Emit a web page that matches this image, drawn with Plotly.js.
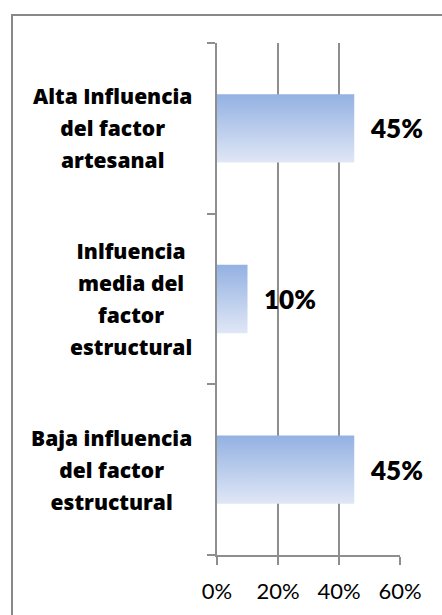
<!DOCTYPE html>
<html>
<head>
<meta charset="utf-8">
<script src="https://cdn.plot.ly/plotly-3.0.1.min.js"></script>
<style>html,body{margin:0;padding:0;background:#fff;}#chart{width:442px;height:615px;}</style>
</head>
<body>
<div id="chart"></div>
<script>
// Data (bottom to top as drawn)
var categories = [
  "Baja influencia\ndel factor\nestructural",
  "Inlfuencia\nmedia del\nfactor\nestructural",
  "Alta Influencia\ndel factor\nartesanal"
];
var values = [0.45, 0.10, 0.45];
var valueLabels = ["45%", "10%", "45%"];
var xTickVals = [0, 0.2, 0.4, 0.6];
var xTickText = ["0%", "20%", "40%", "60%"];

var W = 442, H = 615;
var M = {l: 217, r: 42, t: 43, b: 60};
var plotW = W - M.l - M.r, plotH = H - M.t - M.b;
function px2paperX(p) { return (p - M.l) / plotW; }
function px2paperY(p) { return (H - M.b - p) / plotH; }

var gridCol = "#8E8E8E";
var halfBar = 0.2;

var traces = values.map(function (v, i) {
  return {
    type: "scatter",
    mode: "lines",
    x: [0, v, v, 0, 0],
    y: [i - halfBar, i - halfBar, i + halfBar, i + halfBar, i - halfBar],
    fill: "toself",
    fillgradient: {type: "vertical", colorscale: [[0, "#E0E7F6"], [1, "#93B1E2"]]},
    line: {width: 0, color: "rgba(0,0,0,0)"},
    hoverinfo: "skip",
    showlegend: false
  };
});

var annotations = [];
categories.forEach(function (c, i) {
  var lines = c.split("\n").map(function (s) {
    return '<span style="font-size:21px">' + s + '</span>';
  });
  annotations.push({
    xref: "paper", yref: "y", x: 0, y: i,
    xanchor: "right", yanchor: "middle", xshift: -23,
    align: "center", showarrow: false,
    text: lines.join("<br>"),
    font: {family: "Open Sans, sans-serif", size: 24.6, color: "#000", weight: 800}
  });
});
values.forEach(function (v, i) {
  annotations.push({
    xref: "x", yref: "y", x: v, y: i,
    xanchor: "left", yanchor: "middle", xshift: 14,
    showarrow: false,
    text: valueLabels[i],
    font: {family: "Lato, sans-serif", size: 26, color: "#000", weight: 800}
  });
});

var layout = {
  width: W, height: H,
  margin: {l: M.l, r: M.r, t: M.t, b: M.b, pad: 0},
  paper_bgcolor: "#fff", plot_bgcolor: "#fff",
  showlegend: false,
  xaxis: {
    range: [0, 0.6], tickvals: xTickVals, ticktext: xTickText,
    ticks: "outside", ticklen: 8, tickwidth: 2, tickcolor: gridCol,
    ticklabelstandoff: 8,
    showline: true, linecolor: gridCol, linewidth: 2,
    showgrid: true, gridcolor: gridCol, gridwidth: 2,
    zeroline: false, fixedrange: true,
    tickfont: {family: "Lato, sans-serif", size: 22, color: "#000"}
  },
  yaxis: {
    range: [-0.5, 2.5], tickvals: [-0.5, 0.5, 1.5, 2.5], ticktext: ["", "", "", ""],
    ticks: "outside", ticklen: 8, tickwidth: 2, tickcolor: gridCol,
    showline: true, linecolor: gridCol, linewidth: 2,
    showgrid: false, zeroline: false, fixedrange: true
  },
  annotations: annotations,
  shapes: [{
    type: "rect", xref: "paper", yref: "paper", layer: "above",
    x0: px2paperX(12), x1: px2paperX(450),
    y0: px2paperY(625), y1: px2paperY(15),
    line: {color: "#888888", width: 2}
  }]
};

Plotly.newPlot("chart", traces, layout, {displayModeBar: false, staticPlot: true});
</script>
</body>
</html>
